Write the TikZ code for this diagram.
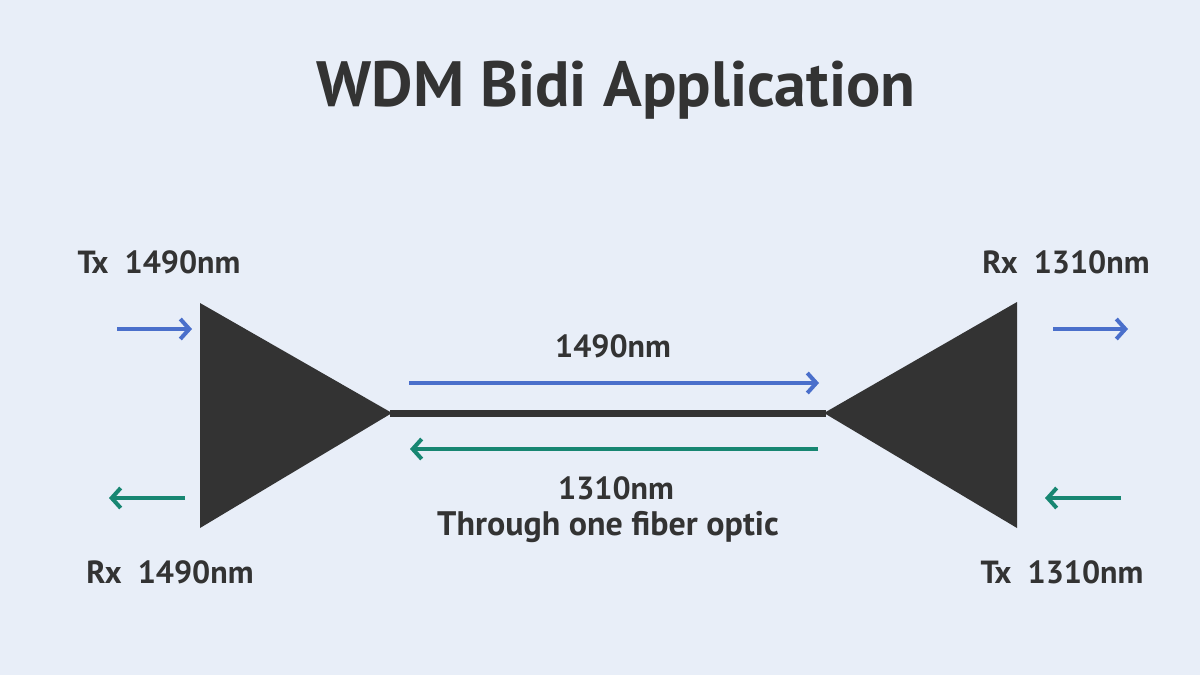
\documentclass[tikz,border=0pt]{standalone}
\usepackage{fontspec}
\setmainfont{PT Sans}
\usetikzlibrary{arrows.meta}
\definecolor{bg}{HTML}{E8EEF8}
\definecolor{dark}{HTML}{333333}
\definecolor{blu}{HTML}{4A6FCB}
\definecolor{grn}{HTML}{178672}
\tikzset{
  lbl/.style={font=\fontsize{16pt}{19pt}\selectfont\bfseries, text=dark, inner sep=0pt},
  arr/.style={line width=2pt, -{Straight Barb[length=4.5pt, width=10pt, line width=2pt]}},
}
\begin{document}
\begin{tikzpicture}[x=0.5pt, y=-0.5pt]
\fill[bg] (0,0) rectangle (1200,675);
\useasboundingbox (0,0) rectangle (1200,675);
\node[font=\fontsize{32pt}{38pt}\selectfont\bfseries, text=dark, inner sep=0pt] (title) at (616,90) {WDM Bidi Application};
% triangles
\fill[dark] (200,303) -- (200,528) -- (392,413) -- cycle;
\fill[dark] (1017,302) -- (1017,528) -- (824,413) -- cycle;
\coordinate (fl) at (390,413);
\coordinate (fr) at (826,413);
\draw[dark, line width=3.5pt] (fl) -- (fr);
% central arrows
\coordinate (ba) at (409,383);
\coordinate (bb) at (819,383);
\draw[arr, blu] (ba) -- (bb);
\coordinate (ga) at (818,449);
\coordinate (gb) at (410,449);
\draw[arr, grn] (ga) -- (gb);
% side arrows
\coordinate (l1a) at (117,329); \coordinate (l1b) at (192,329);
\draw[arr, blu] (l1a) -- (l1b);
\coordinate (l2a) at (185,498); \coordinate (l2b) at (109,498);
\draw[arr, grn] (l2a) -- (l2b);
\coordinate (r1a) at (1053,329); \coordinate (r1b) at (1128,329);
\draw[arr, blu] (r1a) -- (r1b);
\coordinate (r2a) at (1121,498); \coordinate (r2b) at (1045,498);
\draw[arr, grn] (r2a) -- (r2b);
% labels
\node[lbl] (txl) at (159,262) {Tx\ \ 1490nm};
\node[lbl] (rxr) at (1066,262) {Rx\ \ 1310nm};
\node[lbl] (rxl) at (170,572) {Rx\ \ 1490nm};
\node[lbl] (txr) at (1062,572) {Tx\ \ 1310nm};
\node[lbl] (w1) at (613,346) {1490nm};
\node[lbl] (w2) at (616,488) {1310nm};
\node[lbl, font=\fontsize{17pt}{20pt}\selectfont\bfseries] (thr) at (608,527) {Through one fiber optic};
\end{tikzpicture}
\end{document}
